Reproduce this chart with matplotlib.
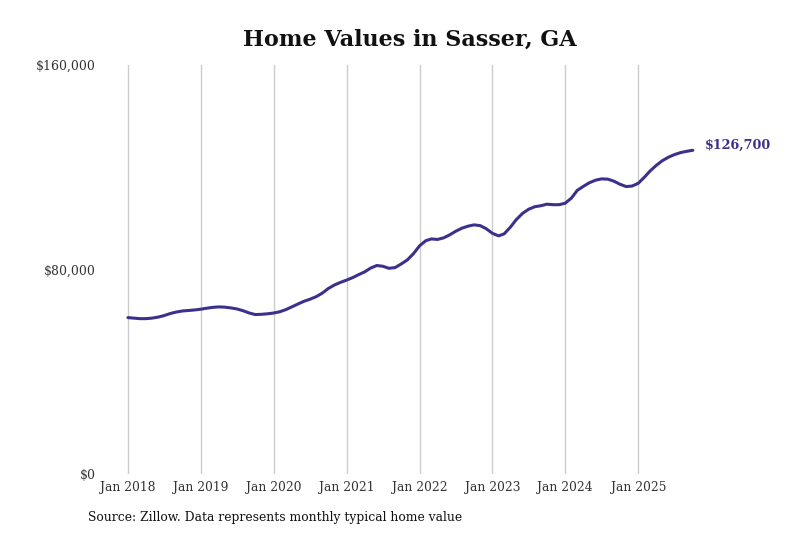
import matplotlib
matplotlib.use("Agg")
import matplotlib.pyplot as plt
import matplotlib.dates as mdates
import numpy as np
import pandas as pd

# ---- data ----
start_month = "2018-01-01"
values_2018 = [61.2, 61.0, 60.8, 60.8, 61.0, 61.4, 62.0, 62.8, 63.4, 63.8, 64.0, 64.2]
values_2019 = [64.5, 64.9, 65.2, 65.4, 65.3, 65.0, 64.6, 63.9, 63.0, 62.4, 62.5, 62.7]
values_2020 = [63.0, 63.5, 64.3, 65.4, 66.5, 67.6, 68.4, 69.4, 70.8, 72.6, 74.0, 75.0]
values_2021 = [75.9, 76.9, 78.0, 79.1, 80.6, 81.6, 81.3, 80.5, 80.8, 82.2, 83.8, 86.2]
values_2022 = [89.3, 91.3, 92.0, 91.8, 92.4, 93.6, 95.0, 96.2, 97.0, 97.5, 97.2, 96.0]
values_2023 = [94.2, 93.2, 94.0, 96.6, 99.6, 102.0, 103.6, 104.6, 105.0, 105.6, 105.4, 105.4]
values_2024 = [106.0, 108.0, 111.0, 112.6, 114.0, 115.0, 115.5, 115.4, 114.6, 113.4, 112.5, 112.7]
values_2025 = [113.8, 116.2, 118.6, 120.8, 122.6, 124.0, 125.0, 125.8, 126.3, 126.7]
tick_years = [2018, 2019, 2020, 2021, 2022, 2023, 2024, 2025]
tick_labels = ["Jan 2018", "Jan 2019", "Jan 2020", "Jan 2021", "Jan 2022", "Jan 2023", "Jan 2024", "Jan 2025"]
y_ticks = [0, 80000, 160000]
y_tick_labels = ["$0", "$80,000", "$160,000"]
end_label = "$126,700"
title = "Home Values in Sasser, GA"
source = "Source: Zillow. Data represents monthly typical home value"

values = np.array(values_2018 + values_2019 + values_2020 + values_2021 +
                  values_2022 + values_2023 + values_2024 + values_2025) * 1000
dates = pd.date_range(start_month, periods=len(values), freq="MS")

# ---- style ----
line_color = "#3b318c"
plt.rcParams["font.family"] = ["DejaVu Serif"]

fig = plt.figure(figsize=(8, 5.33), dpi=100)
ax = fig.add_axes([0.125, 0.1107, 0.75, 0.767])

ax.plot(dates, values, color=line_color, linewidth=2.2, solid_capstyle="round")

x0 = mdates.date2num(pd.Timestamp("2018-01-01"))
ax.set_xlim(x0 - 140, x0 + 2866)
ax.set_ylim(0, 160000)

tick_dates = [pd.Timestamp(f"{y}-01-01") for y in tick_years]
ax.set_xticks(tick_dates)
ax.set_xticklabels(tick_labels, fontsize=8.8, color="#333333")
ax.set_yticks(y_ticks)
ax.set_yticklabels(y_tick_labels, fontsize=8.9, color="#333333")
ax.tick_params(axis="both", length=0)
ax.tick_params(axis="x", pad=5)
ax.tick_params(axis="y", pad=3)
ax.grid(axis="x", color="#cccccc", linewidth=1)
ax.grid(axis="y", visible=False)
for s in ax.spines.values():
    s.set_visible(False)

ax.annotate(end_label, xy=(dates[-1], values[-1]), xytext=(9, 3.5),
            textcoords="offset points", va="center", ha="left",
            fontsize=9.2, fontweight="bold", color=line_color)

fig.text(0.5125, 0.925, title, ha="center", va="center", fontsize=16, fontweight="bold", color="#111111")
fig.text(0.11, 0.03, source, ha="left", va="center", fontsize=8.9, color="#111111")

fig.savefig("out.png", dpi=100, facecolor="white")
